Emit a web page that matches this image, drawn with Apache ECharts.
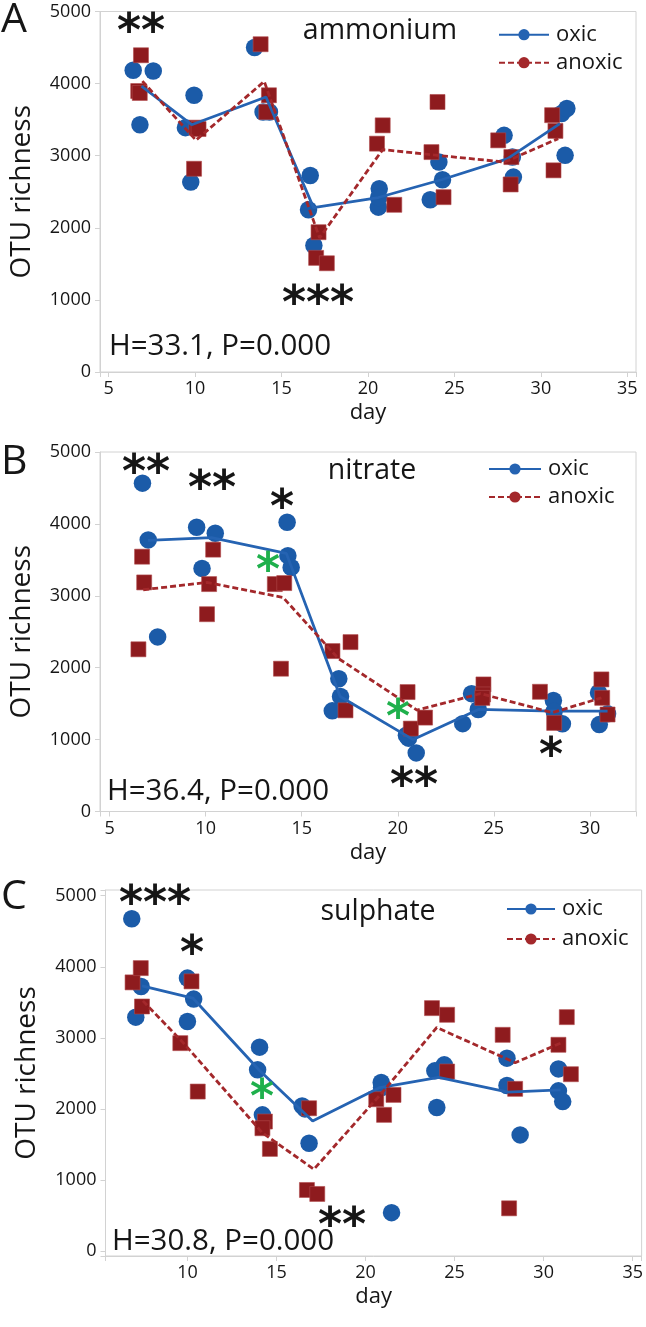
<!DOCTYPE html>
<html>
<head>
<meta charset="utf-8">
<script src="https://cdn.jsdelivr.net/npm/echarts@6/dist/echarts.min.js"></script>
<style>
html, body { margin: 0; padding: 0; background: #fff; }
#chart { width: 646px; height: 1327px; }
</style>
</head>
<body>
<div id="chart"></div>
<script>
// each point is [day, OTU richness]

// A - ammonium
const ammoniumOxic = [
  [6.42, 4185], [7.58, 4175], [6.81, 3430], [9.44, 3389], [9.94, 3838], [9.75, 2634],
  [13.44, 4500], [13.93, 3606], [14.3, 3606], [16.66, 2726], [16.56, 2250], [16.87, 1754],
  [20.65, 2542], [20.6, 2286], [20.62, 2420], [23.6, 2389], [24.1, 2911], [24.31, 2667],
  [27.87, 3282], [28.35, 2981], [28.41, 2703], [31.4, 3005], [31.2, 3585], [31.5, 3655]
]
const ammoniumAnoxic = [
  [6.87, 4393], [6.71, 3897], [6.8, 3870], [10.08, 3389], [10.2, 3370], [9.94, 2819],
  [13.79, 4546], [14.27, 3838], [14.12, 3606], [17.14, 1939], [17.0, 1583], [17.62, 1508],
  [20.85, 3421], [20.52, 3167], [21.52, 2319], [24.02, 3745], [23.67, 3050], [24.37, 2425],
  [27.53, 3213], [28.29, 2981], [28.25, 2601], [30.65, 3562], [30.84, 3344], [30.73, 2797]
]
const ammoniumOxicMean = [[6.9, 3965], [9.8, 3430], [14.1, 3815], [16.85, 2280], [20.6, 2420], [24.3, 2670], [28.05, 2955], [31.1, 3446]]
const ammoniumAnoxicMean = [[6.95, 4035], [10.05, 3215], [14.0, 4030], [17.2, 1860], [20.85, 3085], [23.8, 3010], [27.9, 2912], [31.0, 3237]]

// B - nitrate
const nitrateOxic = [
  [6.71, 4567], [7.01, 3777], [7.5, 2428], [9.53, 3953], [10.5, 3870], [9.81, 3381],
  [14.24, 4023], [14.28, 3558], [14.45, 3395], [16.93, 1847], [17.02, 1600], [16.59, 1400],
  [20.56, 1020], [20.96, 815], [20.45, 1060], [23.38, 1222], [23.84, 1639], [24.19, 1419],
  [28.1, 1544], [28.14, 1395], [28.57, 1219], [30.45, 1651], [30.49, 1209], [30.92, 1358]
]
const nitrateAnoxic = [
  [6.69, 3544], [6.8, 3186], [6.5, 2256], [10.18, 3163], [10.39, 3642], [10.07, 2744],
  [13.6, 3163], [14.09, 3177], [13.92, 1986], [16.6, 2231], [17.54, 2356], [17.28, 1407],
  [20.51, 1661], [20.68, 1153], [21.42, 1306], [24.46, 1767], [24.44, 1628], [24.4, 1580],
  [27.4, 1665], [28.14, 1232], [30.6, 1837], [30.64, 1581], [30.92, 1349]
]
const nitrateOxicMean = [[7.0, 3770], [10.3, 3810], [14.2, 3590], [17.0, 1600], [20.8, 1000], [24.2, 1420], [28.05, 1395], [30.92, 1395]]
const nitrateAnoxicMean = [[6.75, 3084], [10.07, 3186], [14.03, 2977], [16.9, 2130], [21.0, 1410], [24.3, 1640], [28.05, 1375], [30.6, 1581]]

// C - sulphate
const sulphateOxic = [
  [6.875, 4676], [7.4, 3723], [7.1, 3291], [10.0, 3840], [10.35, 3545], [10.0, 3230],
  [14.05, 2869], [13.94, 2549], [14.21, 1916], [16.44, 2042], [16.6, 2000], [16.83, 1517],
  [20.88, 2371], [21.46, 540], [20.9, 2300], [23.89, 2535], [24.42, 2620], [24.0, 2019],
  [27.94, 2714], [27.94, 2329], [28.68, 1634], [30.83, 2563], [30.83, 2254], [31.07, 2103]
]
const sulphateAnoxic = [
  [6.92, 3780], [7.38, 3981], [7.45, 3441], [10.23, 3794], [9.6, 2925], [10.58, 2244],
  [14.35, 1822], [14.21, 1728], [14.63, 1437], [16.83, 2009], [16.71, 859], [17.29, 803],
  [20.6, 2136], [21.04, 1916], [21.57, 2197], [23.73, 3418], [24.58, 3324], [24.58, 2526],
  [27.7, 3042], [28.4, 2282], [28.06, 601], [30.83, 2902], [31.3, 3291], [31.53, 2488]
]
const sulphateOxicMean = [[7.45, 3730], [10.3, 3560], [14.05, 2540], [17.03, 1830], [20.8, 2300], [24.1, 2445], [28.0, 2235], [30.95, 2268]]
const sulphateAnoxicMean = [[7.5, 3520], [9.8, 2920], [14.2, 1665], [17.1, 1150], [20.9, 2220], [24.0, 3145], [28.4, 2650], [30.95, 2925]]

const panelLetters = ['A', 'B', 'C']
const panelTitles = ['ammonium', 'nitrate', 'sulphate']
const statLabels = ['H=33.1, P=0.000', 'H=36.4, P=0.000', 'H=30.8, P=0.000']

const FONT = '"Open Sans", sans-serif'
const BLUE = '#1b5ba8'
const RED = '#8e1b1e'
const LINE_BLUE = '#2563b2'
const LINE_RED = '#a3282b'
const TXT = '#161616'
const AXIS = '#d2d2d2'

const panels = [
  {
    grid: { left: 99, top: 11.5, width: 537, height: 360.5 },
    x: [4.5, 35.5], y: [0, 5000],
    oxic: ammoniumOxic, anoxic: ammoniumAnoxic, oxicMean: ammoniumOxicMean, anoxicMean: ammoniumAnoxicMean,
    legend: { left: 498, top: 23.7, width: 50, gap: 6 },
    letter: [1, 20], title: [380, 31], stat: [109, 347],
    stars: [['**', 141, 26, TXT], ['***', 318, 298, TXT]]
  },
  {
    grid: { left: 99, top: 452, width: 537, height: 359.5 },
    x: [4.5, 32.4], y: [0, 5000],
    oxic: nitrateOxic, anoxic: nitrateAnoxic, oxicMean: nitrateOxicMean, anoxicMean: nitrateAnoxicMean,
    legend: { left: 488, top: 458, width: 52, gap: 6 },
    letter: [1, 462], title: [372, 471], stat: [107, 792],
    stars: [['**', 146, 467, TXT], ['**', 212, 483, TXT], ['*', 282, 502, TXT], ['**', 414, 780, TXT],
      ['*', 551, 750, TXT], ['*', 268, 565, '#1fb04c'], ['*', 398, 712, '#1fb04c']]
  },
  {
    grid: { left: 105.5, top: 890, width: 538, height: 366 },
    x: [5.4, 35.5], y: [-70, 5080],
    oxic: sulphateOxic, anoxic: sulphateAnoxic, oxicMean: sulphateOxicMean, anoxicMean: sulphateAnoxicMean,
    legend: { left: 506, top: 898, width: 48, gap: 8 },
    letter: [1, 897], title: [378, 912], stat: [112, 1242],
    stars: [['***', 155, 898, TXT], ['*', 192, 948, TXT], ['**', 342, 1220, TXT], ['*', 262, 1092, '#1fb04c']]
  }
]

const grids = [], xAxes = [], yAxes = [], series = [], legends = [], texts = []

panels.forEach((p, i) => {
  grids.push(Object.assign({ show: true, borderColor: AXIS, borderWidth: 1, backgroundColor: '#fff' }, p.grid))
  xAxes.push({
    type: 'value', gridIndex: i, min: p.x[0], max: p.x[1], splitNumber: 6,
    name: 'day', nameLocation: 'middle', nameGap: 30,
    nameTextStyle: { fontSize: 22, fontFamily: FONT, color: TXT },
    axisLine: { onZero: false, lineStyle: { color: AXIS, width: 1 } },
    axisTick: { show: true, length: 5, lineStyle: { color: AXIS } },
    splitLine: { show: false },
    axisLabel: { fontSize: 18, fontFamily: FONT, color: TXT, margin: 8, formatter: v => (v % 5 === 0 ? v : '') }
  })
  yAxes.push({
    type: 'value', gridIndex: i, min: p.y[0], max: p.y[1], splitNumber: 5,
    name: 'OTU richness', nameLocation: 'middle', nameGap: 64,
    nameTextStyle: { fontSize: 28, fontFamily: FONT, color: TXT },
    axisLine: { onZero: false, lineStyle: { color: AXIS, width: 1 } },
    axisTick: { show: true, length: 5, lineStyle: { color: AXIS } },
    splitLine: { show: false },
    axisLabel: { fontSize: 18, fontFamily: FONT, color: TXT, margin: 9, formatter: v => (v % 1000 === 0 ? v : '') }
  })

  series.push({
    name: 'oxic samples', type: 'scatter', xAxisIndex: i, yAxisIndex: i, data: p.oxic,
    symbol: 'circle', symbolSize: 17.5, z: 2,
    itemStyle: { color: BLUE, opacity: 1 }
  })
  series.push({
    name: 'anoxic samples', type: 'scatter', xAxisIndex: i, yAxisIndex: i, data: p.anoxic,
    symbol: 'rect', symbolSize: 15, z: 3,
    itemStyle: { color: RED, borderColor: '#b04a4c', borderWidth: 0.6, opacity: 1 }
  })
  series.push({
    name: 'oxic', type: 'line', xAxisIndex: i, yAxisIndex: i, data: p.oxicMean,
    symbol: 'circle', showSymbol: false, z: 4, silent: true,
    itemStyle: { color: LINE_BLUE },
    lineStyle: { color: LINE_BLUE, width: 2.8, type: 'solid' }
  })
  series.push({
    name: 'anoxic', type: 'line', xAxisIndex: i, yAxisIndex: i, data: p.anoxicMean,
    symbol: 'circle', showSymbol: false, z: 4, silent: true,
    itemStyle: { color: LINE_RED },
    lineStyle: { color: LINE_RED, width: 2.8, type: [6, 3] }
  })

  legends.push({
    data: ['oxic', 'anoxic'], orient: 'vertical', selectedMode: false,
    left: p.legend.left, top: p.legend.top, padding: 0,
    itemWidth: p.legend.width, itemHeight: 14, itemGap: p.legend.gap,
    textStyle: { fontSize: 22, fontFamily: FONT, color: TXT, lineHeight: 14, padding: [0, 0, 0, 2] }
  })

  texts.push({ type: 'text', x: p.letter[0], y: p.letter[1],
    style: { text: panelLetters[i], font: '41px ' + FONT, fill: TXT, align: 'left', verticalAlign: 'middle', textAlign: 'left', textVerticalAlign: 'middle' } })
  texts.push({ type: 'text', x: p.title[0], y: p.title[1],
    style: { text: panelTitles[i], font: '28.5px ' + FONT, fill: TXT, align: 'center', verticalAlign: 'middle', textAlign: 'center', textVerticalAlign: 'middle' } })
  texts.push({ type: 'text', x: p.stat[0], y: p.stat[1],
    style: { text: statLabels[i], font: '29.5px ' + FONT, fill: TXT, align: 'left', verticalAlign: 'middle', textAlign: 'left', textVerticalAlign: 'middle' } })
  p.stars.forEach(s => {
    texts.push({ type: 'text', x: s[1], y: s[2] + 8, z: 10,
      style: { text: s[0], font: 'bold 46px "DejaVu Sans", sans-serif', fill: s[3], align: 'center', verticalAlign: 'middle', textAlign: 'center', textVerticalAlign: 'middle' } })
  })
})

const chart = echarts.init(document.getElementById('chart'))
chart.setOption({
  backgroundColor: '#fff',
  animation: false,
  textStyle: { fontFamily: FONT },
  grid: grids,
  xAxis: xAxes,
  yAxis: yAxes,
  legend: legends,
  series: series,
  graphic: texts
})
</script>
</body>
</html>
